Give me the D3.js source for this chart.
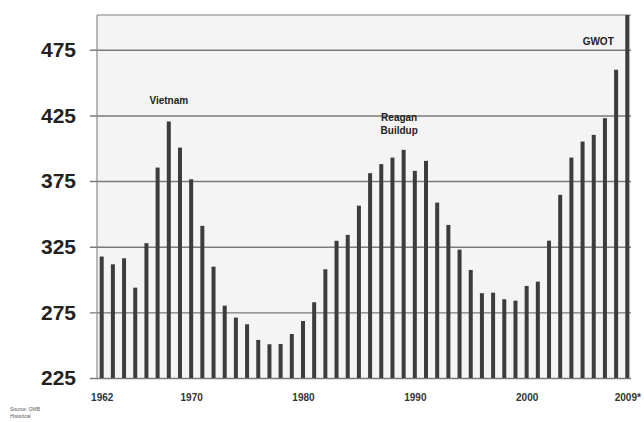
<!DOCTYPE html>
<html>
<head>
<meta charset="utf-8">
<script src="https://cdn.jsdelivr.net/npm/d3@7"></script>
<style>
  body { margin: 0; background: #fff; }
  svg { display: block; font-family: "Liberation Sans", Arial, sans-serif; }
</style>
</head>
<body>
<div id="chart"></div>
<script>
// Data (defense outlays, index per year)
const years = d3.range(1962, 2010);
const values = [
  317.5, 311.6, 316.2, 293.8, 327.7, 385.3, 420.4, 400.5, 376.4, 340.9,
  309.8, 280.1, 271.0, 265.9, 254.0, 250.7, 250.9, 258.5, 268.4, 282.7,
  307.8, 329.5, 334.0, 356.3, 381.0, 387.9, 392.9, 398.8, 382.8, 390.4,
  358.6, 341.6, 322.8, 307.3, 289.6, 290.0, 285.0, 283.9, 295.1, 298.4,
  329.6, 364.5, 392.9, 405.1, 410.2, 422.9, 459.8, 515.0
];
const yTicks = [225, 275, 325, 375, 425, 475];
const xLabels = [
  { year: 1962, text: "1962" },
  { year: 1970, text: "1970" },
  { year: 1980, text: "1980" },
  { year: 1990, text: "1990" },
  { year: 2000, text: "2000" },
  { year: 2009, text: "2009*" }
];
const notes = [
  { year: 1968, value: 434, lines: ["Vietnam"] },
  { year: 1988.6, value: 421, lines: ["Reagan", "Buildup"] },
  { year: 2006.4, value: 479, lines: ["GWOT"] }
];

const W = 644, H = 422;
const plot = { left: 97, right: 631, top: 15, bottom: 378 };

const svg = d3.select("#chart").append("svg")
  .attr("width", W)
  .attr("height", H);

const x = d3.scalePoint()
  .domain(years)
  .range([101.7, 627.3]);

const y = d3.scaleLinear()
  .domain([225, 501.5])
  .range([plot.bottom, plot.top]);

// plot background
svg.append("rect")
  .attr("x", plot.left)
  .attr("y", plot.top)
  .attr("width", plot.right - plot.left)
  .attr("height", plot.bottom - plot.top)
  .attr("fill", "#f4f4f4");

svg.append("defs").append("clipPath")
  .attr("id", "clip")
  .append("rect")
  .attr("x", plot.left)
  .attr("y", plot.top)
  .attr("width", plot.right - plot.left + 2)
  .attr("height", plot.bottom - plot.top);

// y axis with gridlines
const yAxis = svg.append("g")
  .attr("transform", "translate(" + plot.right + ",0)")
  .call(d3.axisLeft(y)
    .tickValues(yTicks)
    .tickSize(plot.right - 90)
    .tickPadding(14));
yAxis.select(".domain").remove();
yAxis.selectAll(".tick line")
  .attr("stroke", "#7a7a7a")
  .attr("stroke-width", 1.4);
yAxis.selectAll(".tick text")
  .attr("fill", "#222")
  .attr("font-size", 21)
  .attr("font-weight", "bold")
  .attr("font-family", "Liberation Sans, Arial, sans-serif");

// frame lines (top and left)
svg.append("line")
  .attr("x1", plot.left).attr("x2", plot.right)
  .attr("y1", plot.top).attr("y2", plot.top)
  .attr("stroke", "#a8a8a8").attr("stroke-width", 1.5);
svg.append("line")
  .attr("x1", plot.left).attr("x2", plot.left)
  .attr("y1", plot.top).attr("y2", plot.bottom)
  .attr("stroke", "#8a8a8a").attr("stroke-width", 1.2);

// bars
svg.append("g")
  .attr("clip-path", "url(#clip)")
  .selectAll("rect")
  .data(values)
  .enter().append("rect")
  .attr("x", (d, i) => x(years[i]) - 2)
  .attr("y", d => y(d))
  .attr("width", 4)
  .attr("height", d => plot.bottom - y(d))
  .attr("fill", "#3c3c3c");

// x labels
const xAxis = svg.append("g")
  .attr("transform", "translate(0," + plot.bottom + ")")
  .call(d3.axisBottom(x)
    .tickValues(xLabels.map(d => d.year))
    .tickFormat(d => xLabels.find(l => l.year === d).text)
    .tickSize(0)
    .tickPadding(16));
xAxis.select(".domain").remove();
xAxis.selectAll(".tick text")
  .attr("fill", "#333")
  .attr("font-size", 10)
  .attr("font-weight", "bold")
  .attr("font-family", "Liberation Sans, Arial, sans-serif");

// annotations
const xNote = d3.scaleLinear().domain([1962, 2009]).range([101.7, 627.3]);
notes.forEach(n => {
  const t = svg.append("text")
    .attr("x", xNote(n.year))
    .attr("y", y(n.value))
    .attr("text-anchor", "middle")
    .attr("font-size", 10)
    .attr("font-weight", "bold")
    .attr("fill", "#222");
  n.lines.forEach((l, i) => {
    t.append("tspan")
      .attr("x", xNote(n.year))
      .attr("dy", i === 0 ? 0 : 13)
      .text(l);
  });
});

// source note
svg.append("text")
  .attr("x", 10).attr("y", 411)
  .attr("font-size", 5)
  .attr("fill", "#555")
  .text("Source: OMB");
svg.append("text")
  .attr("x", 10).attr("y", 418)
  .attr("font-size", 5)
  .attr("fill", "#555")
  .text("Historical");
</script>
</body>
</html>
